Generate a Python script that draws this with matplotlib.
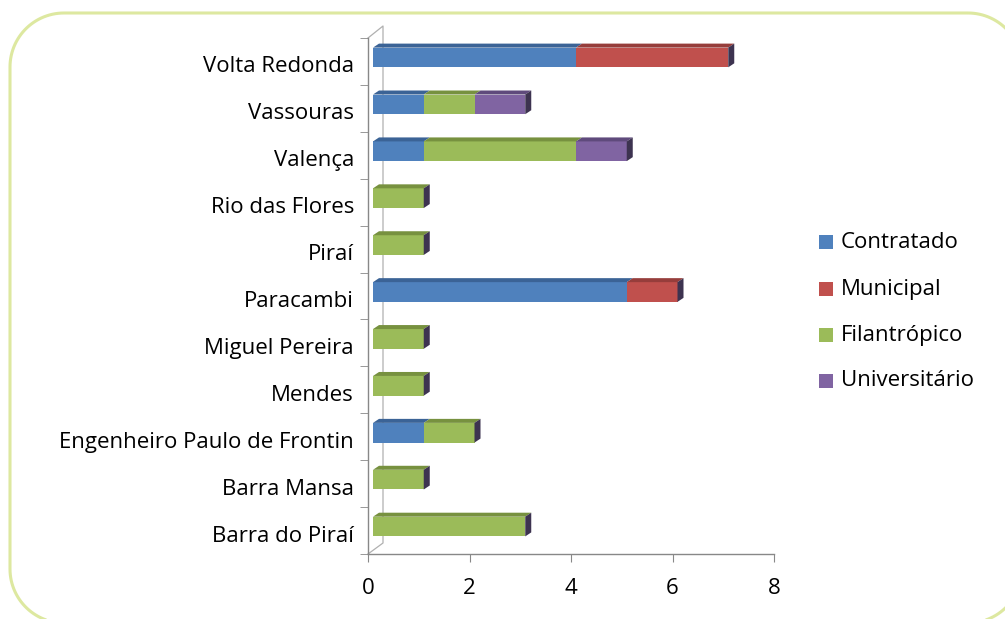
import numpy as np
import matplotlib
matplotlib.use('Agg')
import matplotlib.pyplot as plt
from matplotlib.patches import Polygon, Rectangle
from matplotlib.transforms import ScaledTranslation

plt.rcParams.update({'font.family': 'Open Sans', 'font.size': 16})

# ── data ──
cities = ['Barra do Piraí', 'Barra Mansa', 'Engenheiro Paulo de Frontin', 'Mendes',
          'Miguel Pereira', 'Paracambi', 'Piraí', 'Rio das Flores', 'Valença',
          'Vassouras', 'Volta Redonda']
series = ['Contratado', 'Municipal', 'Filantrópico', 'Universitário']
contratado    = [0, 0, 1, 0, 0, 5, 0, 0, 1, 1, 4]
municipal     = [0, 0, 0, 0, 0, 1, 0, 0, 0, 0, 3]
filantropico  = [3, 1, 1, 1, 1, 0, 1, 1, 3, 1, 0]
universitario = [0, 0, 0, 0, 0, 0, 0, 0, 1, 1, 0]
xticks = [0, 2, 4, 6, 8]

front = ['#4f81bd', '#c0504d', '#9bbb59', '#8064a2']
top = ['#3b6396', '#963d3b', '#77913f', '#5f4a7c']
side = '#3d3350'
axis_col = '#888888'
FS = 16

W, H, DPI = 1005, 619, 100
fig = plt.figure(figsize=(W / DPI, H / DPI), dpi=DPI)

# rounded frame in pixel space (y down)
bg = fig.add_axes([0, 0, 1, 1])
bg.set_xlim(0, W)
bg.set_ylim(H, 0)
bg.axis('off')
L, R, T, B, r = 10, 1022, 13, 623, 54
pts = []
for cx, cy, a0 in [(R - r, T + r, -90), (R - r, B - r, 0), (L + r, B - r, 90), (L + r, T + r, 180)]:
    a = np.radians(np.linspace(a0, a0 + 90, 30))
    pts += list(zip(cx + r * np.cos(a), cy + r * np.sin(a)))
bg.add_patch(Polygon(pts, closed=True, fc='none', ec='#dde8a0', lw=2.2))

x0, x1, yb, yt = 368, 774, 554, 38
ax = fig.add_axes([x0 / W, 1 - yb / H, (x1 - x0) / W, (yb - yt) / H])
ax.set_xlim(0, 8)
ax.set_ylim(-0.5, len(cities) - 0.5)

# bars sit slightly right/above the front plane (3D look)
bar_tr = ax.transData + ScaledTranslation(5 / DPI, 4 / DPI, fig.dpi_scale_trans)
px_x = 8 / (x1 - x0)
px_y = len(cities) / (yb - yt)
dx, dy = 6 * px_x, 4 * px_y
h = 0.42

y = np.arange(len(cities))
left = np.zeros(len(cities))
for vals, fc, tc in zip([contratado, municipal, filantropico, universitario], front, top):
    vals = np.array(vals, dtype=float)
    ax.barh(y, vals, left=left, height=h, color=fc, transform=bar_tr, zorder=3)
    for yi, l, v in zip(y, left, vals):
        if v > 0:
            ax.add_patch(Polygon([(l, yi + h / 2), (l + v, yi + h / 2),
                                  (l + v + dx, yi + h / 2 + dy), (l + dx, yi + h / 2 + dy)],
                                 closed=True, fc=tc, ec='none', transform=bar_tr, zorder=3))
    left = left + vals

for yi, e in zip(y, left):
    ax.add_patch(Polygon([(e, yi - h / 2), (e, yi + h / 2),
                          (e + dx, yi + h / 2 + dy), (e + dx, yi - h / 2 + dy)],
                         closed=True, fc=side, ec='none', transform=bar_tr, zorder=3))

# axes styling
for s in ['top', 'right']:
    ax.spines[s].set_visible(False)
for s in ['left', 'bottom']:
    ax.spines[s].set_color(axis_col)
    ax.spines[s].set_linewidth(1.0)
ax.set_xticks(xticks)
ax.tick_params(axis='x', length=6, color=axis_col, pad=11, labelsize=FS)
ax.set_yticks(y)
ax.set_yticklabels(cities)
ax.set_yticks(np.arange(-0.5, len(cities)), minor=True)
ax.tick_params(axis='y', which='major', length=0, pad=10, labelsize=FS)
ax.tick_params(axis='y', which='minor', length=6, color=axis_col)
for lab in ax.get_yticklabels():
    lab.set_transform(lab.get_transform() + ScaledTranslation(0, -3 / DPI, fig.dpi_scale_trans))

# back wall lines
bw = 15 / (x1 - x0)
bh = 12 / (yb - yt)
ax.plot([0, bw, bw, 0], [1, 1 + bh, 11 / (yb - yt), 0], transform=ax.transAxes,
        color='#b0b0b0', lw=0.9, clip_on=False, zorder=1)

# legend
leg_y = [242, 289, 335, 381]
for name, c, ly in zip(series, front, leg_y):
    fig.add_artist(Rectangle((819 / W, 1 - (ly + 7) / H), 14 / W, 14 / H,
                             transform=fig.transFigure, fc=c, ec='none'))
    fig.text(841 / W, 1 - ly / H, name, va='center', ha='left', fontsize=FS)

plt.savefig('out.png', dpi=DPI)
